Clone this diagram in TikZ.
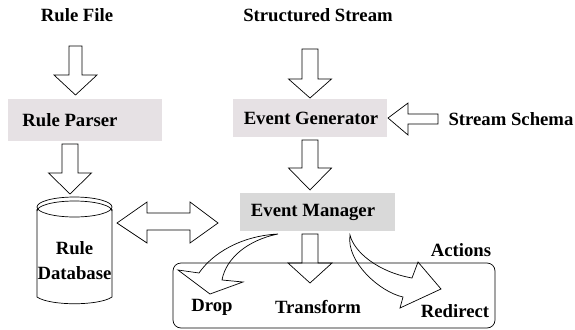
\documentclass[tikz,border=0pt]{standalone}
\usepackage{fontspec}
\setmainfont{Liberation Serif}[BoldFont={Liberation Serif Bold}]
\definecolor{boxpink}{HTML}{E6E1E4}
\definecolor{boxgray}{HTML}{D9D9D9}
% hollow block arrow pointing down: centre x, half shaft, top, head top, half head, tip
\newcommand\blkdown[6]{%
  \draw[blk] (#1-#2,#3) -- (#1+#2,#3) -- (#1+#2,#4) -- (#1+#5,#4) -- (#1,#6)
    -- (#1-#5,#4) -- (#1-#2,#4) -- cycle;}
\begin{document}
\begin{tikzpicture}[x=1pt,y=-1pt,
  lbl/.style={font=\fontsize{18.7}{21}\selectfont\bfseries, inner sep=0pt},
  blk/.style={draw=black, line width=0.7pt, line join=miter},
  procbox/.style={fill=#1, draw=none}]
\useasboundingbox (0,0) rectangle (575,329);

% process boxes
\fill[procbox=boxpink] (8,99) rectangle (162,141);
\fill[procbox=boxpink] (233,99) rectangle (387,137);
\fill[procbox=boxgray] (240,193) rectangle (395,231);
\coordinate (parser) at (85,120);
\coordinate (generator) at (310,118);
\coordinate (manager) at (317,212);

% labels
\node[lbl] (rulefile) at (77,15) {Rule File};
\node[lbl] (stream) at (318,15) {Structured Stream};
\node[lbl] (parsertext) at (70,120) {Rule Parser};
\node[lbl] (gentext) at (311,118) {Event Generator};
\node[lbl] (schema) at (511,119) {Stream Schema};
\node[lbl] (mgrtext) at (313,212) {Event Manager};
\node[lbl] (dbtext1) at (74.5,248) {Rule};
\node[lbl] (dbtext2) at (74.5,273) {Database};
\node[lbl] (actions) at (461,250) {Actions};
\node[lbl] (drop) at (212,307) {Drop};
\node[lbl] (transform) at (318,307) {Transform};
\node[lbl] (redirect) at (455,311) {Redirect};

% rule database cylinder
\draw[blk] (74.5,207) ellipse [x radius=37.5, y radius=10];
\draw[blk] (37,211) arc[start angle=180, end angle=360, x radius=37.5, y radius=10];
\draw[blk] (37,209) -- (37,297) .. controls (50,306) and (99,306) .. (112,297) -- (112,209);

% actions container
\draw[blk, rounded corners=8pt] (173,263) rectangle (495,328);

% straight block arrows
\blkdown{75.5}{6.5}{46}{75}{21.5}{95}
\blkdown{70}{8}{144}{173}{21.5}{194}
\blkdown{310}{8}{49}{79}{21.5}{98}
\blkdown{310}{8}{140}{168}{21.5}{190}
\blkdown{310}{8}{234}{263}{22}{283}

% schema arrow pointing left into the generator
\draw[blk] (388,118) -- (408,103) -- (408,114) -- (438,114) -- (438,124)
  -- (408,124) -- (408,135) -- cycle;

% two-way arrow between database and manager
\draw[blk] (117,223) -- (147,202) -- (147,213) -- (190,213) -- (190,202)
  -- (218,223) -- (190,243) -- (190,230) -- (147,230) -- (147,243) -- cycle;

% curved arrow to Drop
\draw[blk] (278,234) .. controls (240,236) and (212,254) .. (199,273)
  -- (178,270) -- (210,294) -- (243,282) -- (222,280)
  .. controls (226,258) and (248,240) .. (278,234) -- cycle;

% curved arrow to Redirect
\draw[blk] (350,235) .. controls (354,252) and (378,272) .. (412,278)
  -- (418,262) -- (441,289) -- (400,308) -- (403,297)
  .. controls (380,292) and (346,262) .. (350,235) -- cycle;
\end{tikzpicture}
\end{document}
